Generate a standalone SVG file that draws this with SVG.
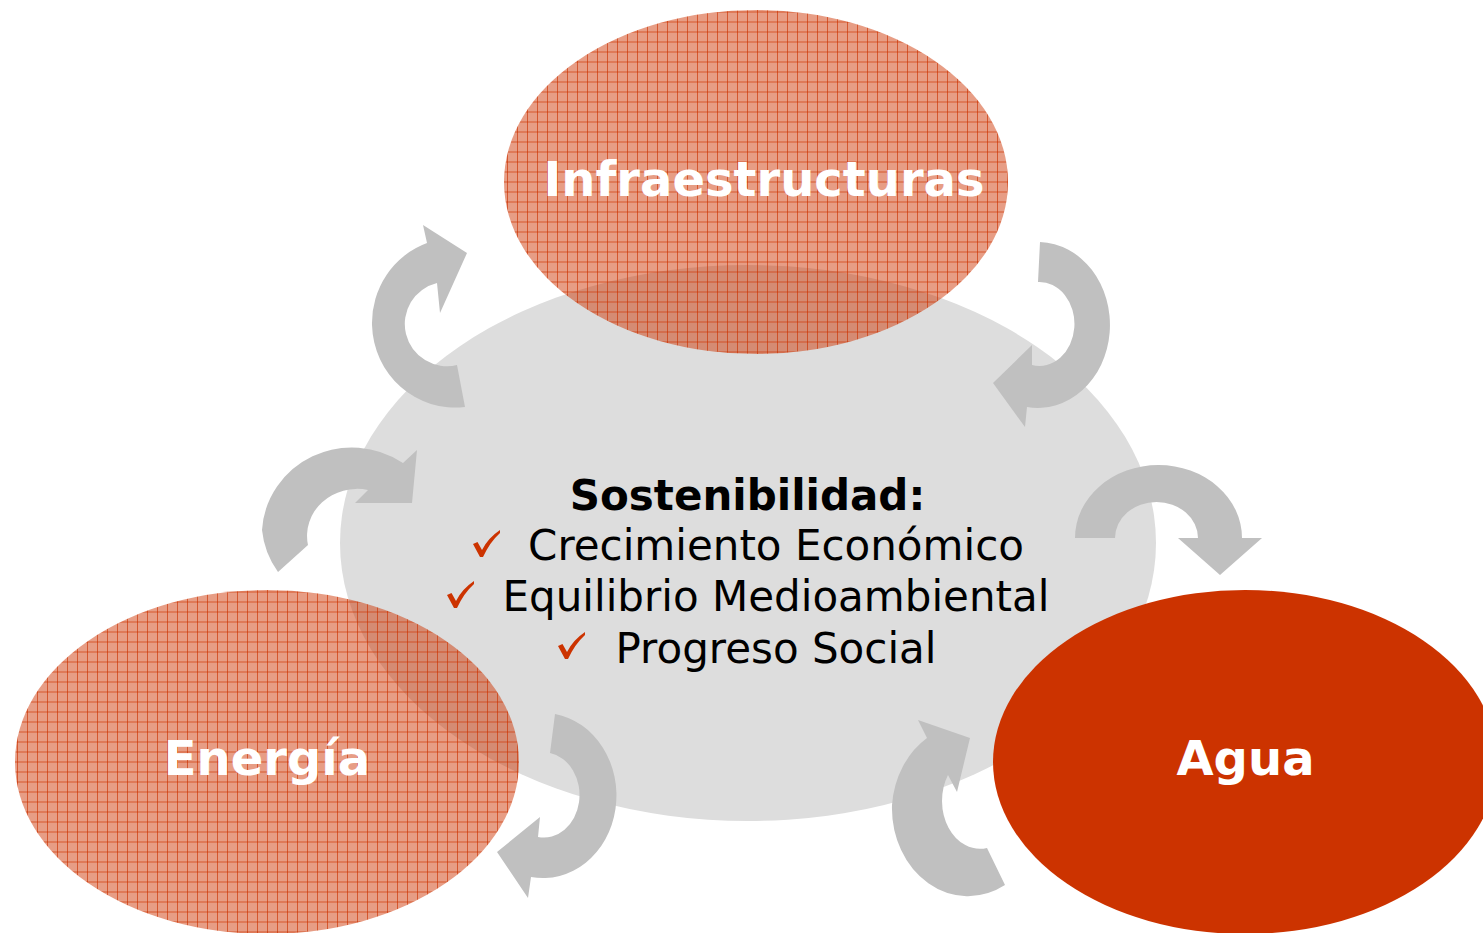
<svg xmlns="http://www.w3.org/2000/svg" width="1483" height="933" viewBox="0 0 1483 933">
<style>
.lbl{font-family:"DejaVu Sans",Verdana,sans-serif;font-weight:bold;font-size:48px;fill:#ffffff;text-anchor:middle}
.ttl{font-family:"DejaVu Sans",Verdana,sans-serif;font-weight:bold;font-size:42px;fill:#000000;text-anchor:middle}
.itm{font-family:"DejaVu Sans",Verdana,sans-serif;font-size:42px;fill:#000000;text-anchor:middle}
.arr{fill:#c0c0c0}
.chk{fill:#cc3300}
</style>
<defs>
<pattern id="grid" patternUnits="userSpaceOnUse" x="7" y="1.5" width="10" height="10">
<rect width="10" height="10" fill="#cc3300" fill-opacity="0.48"/>
<path d="M0 0.5H10M0.5 0V10" stroke="#cc3300" stroke-opacity="0.65" stroke-width="1" fill="none"/>
</pattern>
<path id="check" d="M0,14 L4.5,12 L9,20 Q15,8 27,0 L27,3 Q17,12 10,27 L7,27 Z"/>
</defs>
<rect width="1483" height="933" fill="#ffffff"/>
<g id="centro">
<ellipse cx="748" cy="543" rx="408" ry="278" fill="#dddddd"/>
</g>
<g id="infraestructuras">
<ellipse cx="756" cy="182" rx="252" ry="172" fill="url(#grid)"/>
<text class="lbl" x="764" y="196">Infraestructuras</text>
</g>
<g id="energia">
<ellipse cx="267" cy="762" rx="252" ry="172" fill="url(#grid)"/>
<text class="lbl" x="267" y="775">Energía</text>
</g>
<g id="agua">
<ellipse cx="1245" cy="762" rx="252" ry="172" fill="#cc3300"/>
<text class="lbl" x="1245.5" y="775">Agua</text>
</g>
<g id="sostenibilidad">
<text class="ttl" x="747.5" y="510">Sostenibilidad:</text>
<use href="#check" class="chk" x="473" y="530"/>
<text class="itm" x="776" y="560">Crecimiento Económico</text>
<use href="#check" class="chk" x="447" y="581"/>
<text class="itm" x="776" y="611">Equilibrio Medioambiental</text>
<use href="#check" class="chk" x="558" y="632"/>
<text class="itm" x="776" y="663">Progreso Social</text>
</g>
<g id="connectors">
<path class="arr" d="M465,407 A83,85 0 0 1 372,325 A83,85 0 0 1 427,243 L423,225 L467,253 L440,313 L437,283 A42,42 0 0 0 457,365 Z"/>
<path class="arr" d="M1040,242 A72,83 0 1 1 1027,407 L1025,427 L993,383 L1032,345 L1032,365 A35,42 0 1 0 1038,282 Z"/>
<path class="arr" d="M1075,538 A83.5,73 0 0 1 1242,538 L1262,538 L1220,575 L1178,538 L1198,538 A41.5,36 0 0 0 1115,538 Z"/>
<path class="arr" d="M278,572 A90,88 0 0 1 262,530 A90,88 0 0 1 403,463 L417,450 L412,503 L355,503 L368,490 A50,47 0 0 0 308,545 Z"/>
<path class="arr" d="M555,714 A72,81 0 1 1 531,877 L528,898 L497,852 L540,817 L538,837 A35,42 0 1 0 550,753 Z"/>
<path class="arr" d="M1005,885 A76,88 0 0 1 892,805 A76,88 0 0 1 927,738 L918,720 L970,738 L957,792 L948,775 A38,48 0 0 0 987,848 Z"/>
</g>
</svg>
